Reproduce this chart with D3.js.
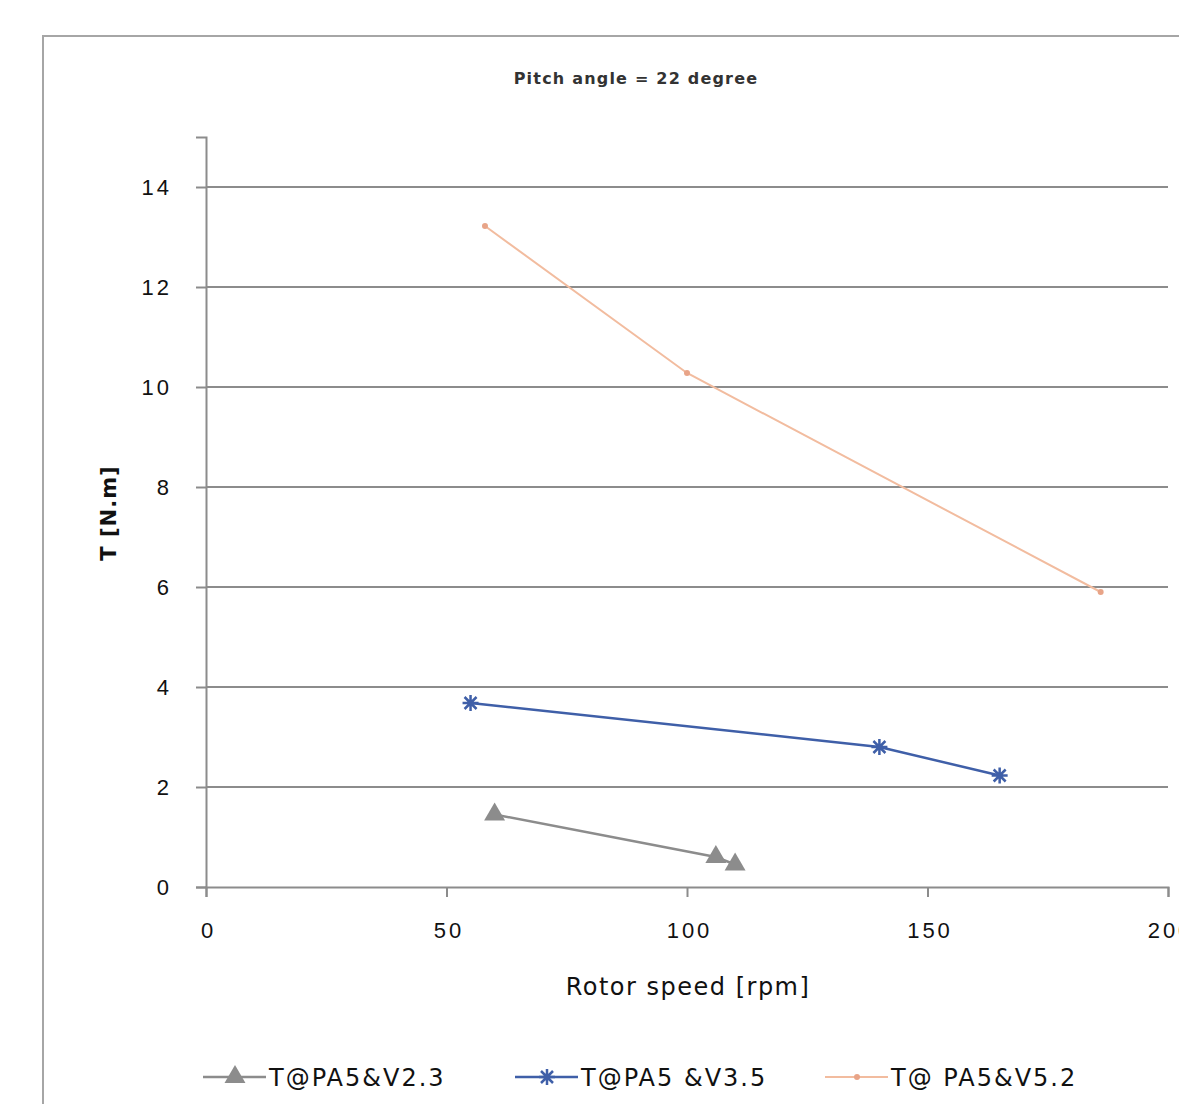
<!DOCTYPE html>
<html>
<head>
<meta charset="utf-8">
<script src="https://cdn.jsdelivr.net/npm/d3@7"></script>
<style>
body { margin: 0; background: #fff; }
svg { display: block; font-family: "DejaVu Sans", Verdana, sans-serif; }
</style>
</head>
<body>
<div id="chart"></div>
<script>
// series (rotor speed rpm, torque N.m)
var v23Speed = [60, 106, 110],
    v23Torque = [1.45, 0.6, 0.45];
var v35Speed = [55, 140, 165],
    v35Torque = [3.68, 2.8, 2.23];
var v52Speed = [58, 100, 186],
    v52Torque = [13.22, 10.28, 5.9];

var seriesNames = ["T@PA5&V2.3", "T@PA5 &V3.5", "T@ PA5&V5.2"];
var xTicks = [0, 50, 100, 150, 200],
    yTicks = [0, 2, 4, 6, 8, 10, 12, 14];

var outerWidth = 1179, outerHeight = 1104;
var margin = { top: 137, right: 11, bottom: 217, left: 206 },
    width = outerWidth - margin.left - margin.right,
    height = outerHeight - margin.top - margin.bottom;

var x = d3.scaleLinear().domain([0, 200]).range([0, width]);
var y = d3.scaleLinear().domain([0, 15]).range([height, 0]);

var svg = d3.select("#chart").append("svg")
    .attr("width", outerWidth)
    .attr("height", outerHeight);

// chart frame
svg.append("rect")
    .attr("x", 43).attr("y", 36)
    .attr("width", 1200).attr("height", 1200)
    .attr("fill", "none")
    .attr("stroke", "#a6a6a6")
    .attr("stroke-width", 2);

svg.append("text")
    .attr("x", 636).attr("y", 84)
    .attr("text-anchor", "middle")
    .style("font-size", "16px")
    .style("font-weight", "bold")
    .style("letter-spacing", "1.2px")
    .attr("fill", "#333")
    .text("Pitch angle = 22 degree");

var g = svg.append("g")
    .attr("transform", "translate(" + margin.left + "," + margin.top + ")");

// horizontal gridlines
g.selectAll(".grid")
    .data(yTicks.filter(function (d) { return d > 0; }))
    .enter().append("line")
    .attr("x1", 0).attr("x2", width)
    .attr("y1", function (d) { return y(d); })
    .attr("y2", function (d) { return y(d); })
    .attr("stroke", "#8c8c8c")
    .attr("stroke-width", 2);

var yAxis = g.append("g")
    .call(d3.axisLeft(y).tickValues(yTicks).tickSize(10).tickPadding(27));
var xAxis = g.append("g")
    .attr("transform", "translate(0," + height + ")")
    .call(d3.axisBottom(x).tickValues(xTicks).tickSize(10).tickPadding(25));

[yAxis, xAxis].forEach(function (a) {
    a.select(".domain").attr("stroke", "#8c8c8c").attr("stroke-width", 2);
    a.selectAll(".tick line").attr("stroke", "#8c8c8c").attr("stroke-width", 2);
    a.selectAll(".tick text")
        .attr("fill", "#111")
        .style("font-size", "22px")
        .style("letter-spacing", "3px");
});
yAxis.selectAll(".tick text").attr("dx", "3px");
xAxis.selectAll(".tick text").attr("dx", "2px");

svg.append("text")
    .attr("x", 688).attr("y", 995)
    .attr("text-anchor", "middle")
    .style("font-size", "24px")
    .style("letter-spacing", "1.5px")
    .attr("fill", "#111")
    .text("Rotor speed [rpm]");

svg.append("text")
    .attr("transform", "translate(116,513) rotate(-90)")
    .attr("text-anchor", "middle")
    .style("font-size", "21px")
    .style("font-weight", "bold")
    .style("letter-spacing", "1px")
    .attr("fill", "#111")
    .text("T [N.m]");

var series = [
    { name: seriesNames[0], xs: v23Speed, ys: v23Torque, color: "#8c8c8c", marker: "triangle", width: 2.5 },
    { name: seriesNames[1], xs: v35Speed, ys: v35Torque, color: "#3f5fa8", marker: "star", width: 2.5 },
    { name: seriesNames[2], xs: v52Speed, ys: v52Torque, color: "#f2bc9f", marker: "dot", width: 2 }
];

var line = d3.line()
    .x(function (d) { return x(d[0]); })
    .y(function (d) { return y(d[1]); });

function drawMarker(sel, s) {
    if (s.marker === "triangle") {
        sel.append("path")
            .attr("d", d3.symbol().type(d3.symbolTriangle).size(190))
            .attr("fill", s.color);
    } else if (s.marker === "star") {
        sel.append("path")
            .attr("d", "M-8,0H8M0,-8V8M-6,-6L6,6M-6,6L6,-6")
            .attr("stroke", s.color)
            .attr("stroke-width", 2.5);
    } else {
        sel.append("circle").attr("r", 3).attr("fill", "#e8a488");
    }
}

series.forEach(function (s) {
    var pts = s.xs.map(function (v, i) { return [v, s.ys[i]]; });
    g.append("path")
        .datum(pts)
        .attr("d", line)
        .attr("fill", "none")
        .attr("stroke", s.color)
        .attr("stroke-width", s.width);
    pts.forEach(function (p) {
        var m = g.append("g")
            .attr("transform", "translate(" + x(p[0]) + "," + y(p[1]) + ")");
        drawMarker(m, s);
    });
});

// legend
var legendX = [203, 515, 825];
series.forEach(function (s, i) {
    var lg = svg.append("g").attr("transform", "translate(" + legendX[i] + ",1077)");
    lg.append("line")
        .attr("x1", 0).attr("x2", 63)
        .attr("stroke", s.color).attr("stroke-width", s.width);
    var m = lg.append("g").attr("transform", "translate(32,0)");
    drawMarker(m, s);
    lg.append("text")
        .attr("x", 66).attr("y", 9)
        .style("font-size", "24px")
        .style("letter-spacing", "2px")
        .attr("fill", "#111")
        .text(s.name);
});
</script>
</body>
</html>
